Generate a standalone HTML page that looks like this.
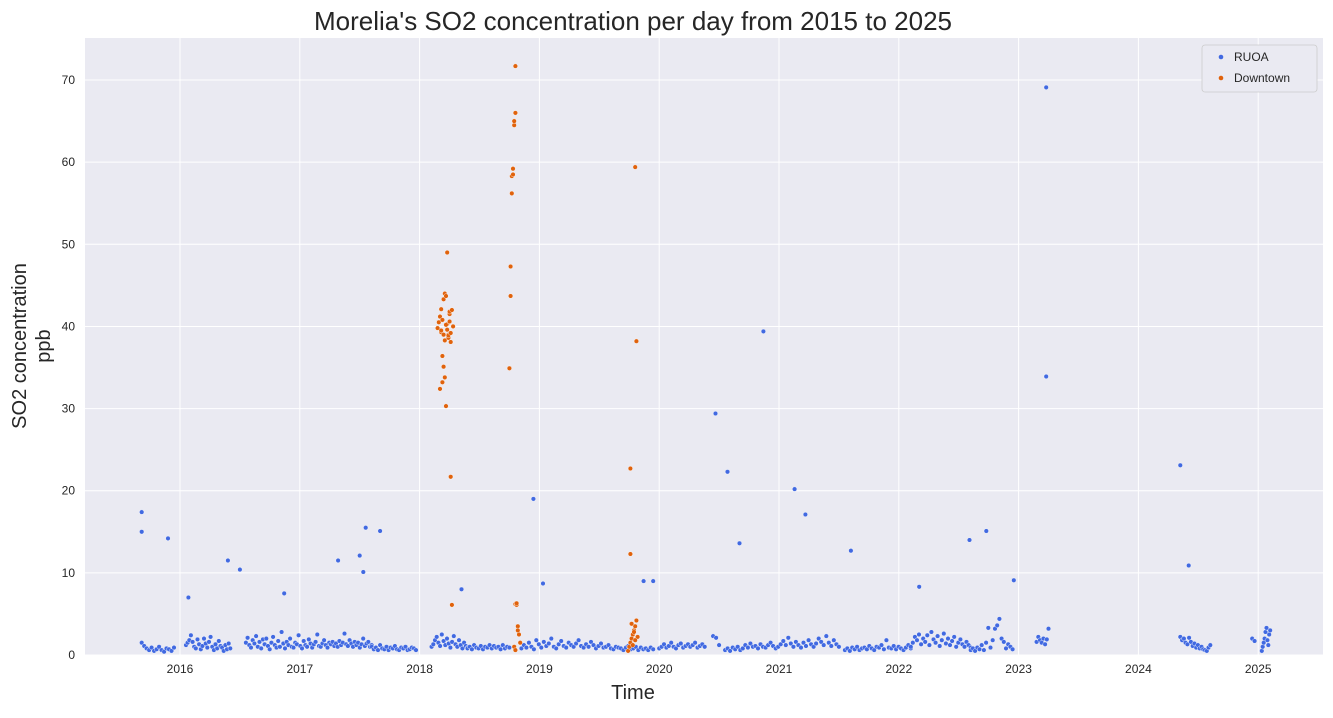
<!DOCTYPE html>
<html><head><meta charset="utf-8">
<style>
body{margin:0;background:#fff;font-family:"Liberation Sans",Arial,sans-serif;}
svg text{font-family:"Liberation Sans",Arial,sans-serif;fill:#262626;}
</style></head>
<body>
<svg id="chart" width="1333" height="713" xmlns="http://www.w3.org/2000/svg">
<rect x="0" y="0" width="1333" height="713" fill="#fff"/>
<rect x="85" y="38" width="1238" height="617" fill="#eaeaf2"/>
<g id="grid"></g><g id="ticks"></g><g id="marks"></g>
<text x="633" y="30" font-size="26" text-anchor="middle">Morelia's SO2 concentration per day from 2015 to 2025</text>
<text x="633" y="699" font-size="20" text-anchor="middle">Time</text>
<text transform="translate(26,346) rotate(-90)" font-size="20" text-anchor="middle"><tspan x="0" dy="0">SO2 concentration</tspan><tspan x="0" dy="24">ppb</tspan></text>
<g>
<rect x="1202" y="45" width="115" height="47" rx="3" fill="#eaeaf2" stroke="#ccc" stroke-width="0.8"/>
<circle cx="1221" cy="57" r="2.3" fill="#4169e1"/>
<text x="1234" y="61" font-size="12">RUOA</text>
<circle cx="1221" cy="78" r="2.3" fill="#e0620c"/>
<text x="1234" y="82" font-size="12">Downtown</text>
</g>
</svg>
<script>
const yTicks=[0,10,20,30,40,50,60,70];
const xTicks=[2016,2017,2018,2019,2020,2021,2022,2023,2024,2025];
// RUOA segments: [startYear, endYear, values...]
const ruoaSegments=[
[2015.68,2015.95,[1.5,1.1,0.8,0.6,0.9,0.5,0.7,1.0,0.6,0.4,0.8,0.7,0.5,0.9]],
[2016.05,2016.42,[1.2,1.5,1.8,2.4,1.6,1.0,0.8,1.9,1.3,0.7,1.1,2.0,1.4,0.9,1.6,2.2,1.0,0.6,1.3,0.8,1.7,1.1,0.9,0.5,1.2,0.7,1.4,0.8]],
[2016.55,2017.6,[1.5,2.1,1.2,0.9,1.8,1.4,2.3,1.0,1.6,0.8,1.9,1.3,2.0,1.1,0.7,1.5,2.2,1.2,0.9,1.7,1.0,2.8,1.4,0.8,1.6,1.2,2.0,1.0,0.9,1.5,1.3,2.4,1.1,0.8,1.7,1.2,1.0,1.9,1.4,0.9,1.3,1.6,2.5,1.1,1.0,1.4,1.8,1.2,0.9,1.5,1.3,1.6,1.1,1.4,1.0,1.7,1.2,1.5,2.6,1.3,1.1,1.8,1.4,1.0,1.6,1.2,1.5,0.9,1.3,2.0,1.1,1.4,1.6,1.0,1.2]],
[2017.6,2017.97,[1.0,0.7,0.9,0.6,1.2,0.8,0.7,1.0,0.6,0.9,0.8,1.1,0.7,0.6,0.9,0.8,1.0,0.6,0.7,0.9,0.8,0.6]],
[2018.1,2018.4,[1.0,1.3,1.8,2.2,1.5,1.1,2.5,1.7,1.2,2.0,1.4,0.9,1.6,2.3,1.3,1.0,1.8,1.2,0.8,1.5,1.1,0.9]],
[2018.4,2018.75,[0.8,1.0,0.7,1.2,0.9,0.8,1.1,0.7,1.0,0.9,1.2,0.8,1.1,0.9,1.0,0.7,1.2,0.8,1.0,0.9]],
[2018.85,2019.95,[0.8,1.2,0.9,1.5,1.0,0.7,1.8,1.3,0.9,1.6,1.1,1.4,2.0,1.0,0.8,1.3,1.7,1.1,0.9,1.5,1.2,1.0,1.4,1.8,1.1,0.9,1.3,1.0,1.6,1.2,0.8,1.1,1.4,0.9,1.0,1.2,0.8,0.7,1.0,0.9,0.8,0.6,0.9,1.1,0.7,0.8,1.0,0.6,0.9,0.7,0.8,0.6,0.9,0.7]],
[2020.0,2020.38,[0.8,1.0,1.3,0.9,1.1,1.5,1.0,0.8,1.2,1.4,0.9,1.1,1.3,1.0,1.2,1.5,0.9,1.1,1.3,1.0]],
[2020.45,2020.5,[2.3,2.1,1.2]],
[2020.55,2021.5,[0.6,0.8,0.5,0.9,0.7,1.0,0.6,0.8,1.2,0.9,1.4,1.0,1.1,0.8,1.3,1.0,0.9,1.2,1.5,1.1,0.8,1.0,1.3,1.7,1.2,2.1,1.4,1.0,1.6,1.2,0.9,1.5,1.1,1.8,1.3,1.0,1.4,2.0,1.6,1.2,2.3,1.5,1.1,1.8,1.3,1.0]],
[2021.55,2022.1,[0.6,0.8,0.5,0.9,0.7,1.0,0.6,0.8,0.9,0.7,1.1,0.8,0.6,1.0,0.9,1.2,0.7,1.8,0.9,0.8,1.1,0.7,1.0,0.8,0.6,0.9,1.2,0.8]],
[2022.1,2022.6,[1.0,1.5,2.2,1.8,2.5,1.3,2.0,1.6,2.4,1.2,2.8,1.9,1.5,2.3,1.1,1.8,2.6,1.4,2.0,1.2,1.7,2.2,1.0,1.5,1.9,1.3,1.0,1.6,1.2,0.9]],
[2022.6,2022.95,[0.6,0.8,0.5,0.9,0.7,1.2,0.6,1.5,3.3,0.9,1.8,3.2,3.6,4.4,2.0,1.6,0.8,1.3,1.0,0.7]],
[2023.15,2023.25,[1.6,2.2,1.8,1.5,2.0,1.3,1.9,3.2]],
[2024.35,2024.6,[2.2,1.8,2.0,1.5,1.3,2.1,1.6,1.1,1.4,0.9,1.2,0.8,1.0,0.7,0.6,0.5,0.9,1.2]],
[2024.95,2024.97,[2.0,1.7]],
[2025.03,2025.1,[0.5,1.0,1.5,2.0,2.8,3.3,1.8,1.2,2.5,3.0]]
];
const ruoaOutlierDates=[2015.68,2015.68,2015.9,2016.07,2016.4,2016.5,2016.87,2017.32,2017.5,2017.55,2017.53,2017.67,2018.35,2018.95,2019.03,2019.87,2019.95,2020.47,2020.57,2020.67,2020.87,2021.13,2021.22,2021.6,2022.17,2022.59,2022.73,2022.96,2023.23,2023.23,2024.35,2024.42];
const ruoaOutlierValues=[17.4,15.0,14.2,7.0,11.5,10.4,7.5,11.5,12.1,15.5,10.1,15.1,8.0,19.0,8.7,9.0,9.0,29.4,22.3,13.6,39.4,20.2,17.1,12.7,8.3,14.0,15.1,9.1,69.1,33.9,23.1,10.9];
const downtownDates=[2018.15,2018.16,2018.17,2018.17,2018.18,2018.18,2018.19,2018.19,2018.2,2018.2,2018.21,2018.21,2018.22,2018.22,2018.23,2018.23,2018.24,2018.24,2018.25,2018.25,2018.26,2018.26,2018.27,2018.27,2018.28,2018.18,2018.19,2018.2,2018.21,2018.22,2018.23,2018.24,2018.25,2018.26,
2018.75,2018.76,2018.76,2018.77,2018.77,2018.78,2018.78,2018.79,2018.79,2018.8,2018.8,2018.8,2018.81,2018.81,2018.82,2018.82,2018.83,2018.84,2018.79,2018.8,
2019.76,2019.76,2019.8,2019.81,2019.74,2019.75,2019.76,2019.77,2019.78,2019.79,2019.8,2019.81,2019.82,2019.77,2019.78,2019.79,2019.8];
const downtownValues=[39.8,40.5,41.2,32.4,39.3,42.1,33.2,36.4,43.3,35.1,33.8,44.0,43.7,30.3,49.0,40.3,39.0,38.6,41.5,41.8,38.1,21.7,6.1,42.0,40.0,39.5,40.8,39.0,38.3,40.2,39.6,38.9,40.6,39.2,
34.9,43.7,47.3,56.2,58.3,58.5,59.2,64.5,65.0,66.0,71.7,6.2,6.1,6.3,3.5,3.0,2.5,1.5,1.0,0.6,
12.3,22.7,59.4,38.2,0.5,1.0,1.5,2.0,2.5,3.0,3.5,4.2,2.2,3.8,1.2,2.8,1.8];

const X0=85,X1=1323,Y0=38,Y1=655;
function xs(t){return 180+(t-2016)*119.8;}
function ys(v){return 655-v*8.214;}
const NS="http://www.w3.org/2000/svg";
const grid=document.getElementById('grid'),ticks=document.getElementById('ticks'),marks=document.getElementById('marks');
yTicks.forEach(v=>{
 const l=document.createElementNS(NS,'line');
 l.setAttribute('x1',X0);l.setAttribute('x2',X1);l.setAttribute('y1',ys(v));l.setAttribute('y2',ys(v));
 l.setAttribute('stroke','#fff');l.setAttribute('stroke-width','1');
 
 
 grid.appendChild(l);
 const t=document.createElementNS(NS,'text');
 t.setAttribute('x',X0-10);t.setAttribute('y',ys(v)+4);t.setAttribute('font-size','12');t.setAttribute('text-anchor','end');
 t.textContent=v;
 
 
 ticks.appendChild(t);
});
xTicks.forEach(v=>{
 const l=document.createElementNS(NS,'line');
 l.setAttribute('x1',xs(v));l.setAttribute('x2',xs(v));l.setAttribute('y1',Y0);l.setAttribute('y2',Y1);
 l.setAttribute('stroke','#fff');l.setAttribute('stroke-width','1');
 
 
 grid.appendChild(l);
 const t=document.createElementNS(NS,'text');
 t.setAttribute('x',xs(v));t.setAttribute('y',Y1+18);t.setAttribute('font-size','12');t.setAttribute('text-anchor','middle');
 t.textContent=v;
 
 
 ticks.appendChild(t);
});
function dot(t,v,color,name){
 const c=document.createElementNS(NS,'circle');
 c.setAttribute('cx',xs(t).toFixed(1));c.setAttribute('cy',ys(v).toFixed(1));c.setAttribute('r','2.3');
 c.setAttribute('fill',color);c.setAttribute('stroke','#fff');c.setAttribute('stroke-width','0.4');
 
 
 marks.appendChild(c);
}
ruoaSegments.forEach(s=>{
 const a=s[0],b=s[1],vals=s[2],n=vals.length;
 vals.forEach((v,i)=>{dot(a+(n>1?(b-a)*i/(n-1):0),v,'#4169e1','ruoa-point');});
});
ruoaOutlierDates.forEach((t,i)=>dot(t,ruoaOutlierValues[i],'#4169e1','ruoa-point'));
downtownDates.forEach((t,i)=>dot(t,downtownValues[i],'#e0620c','downtown-point'));
</script>
</body></html>
